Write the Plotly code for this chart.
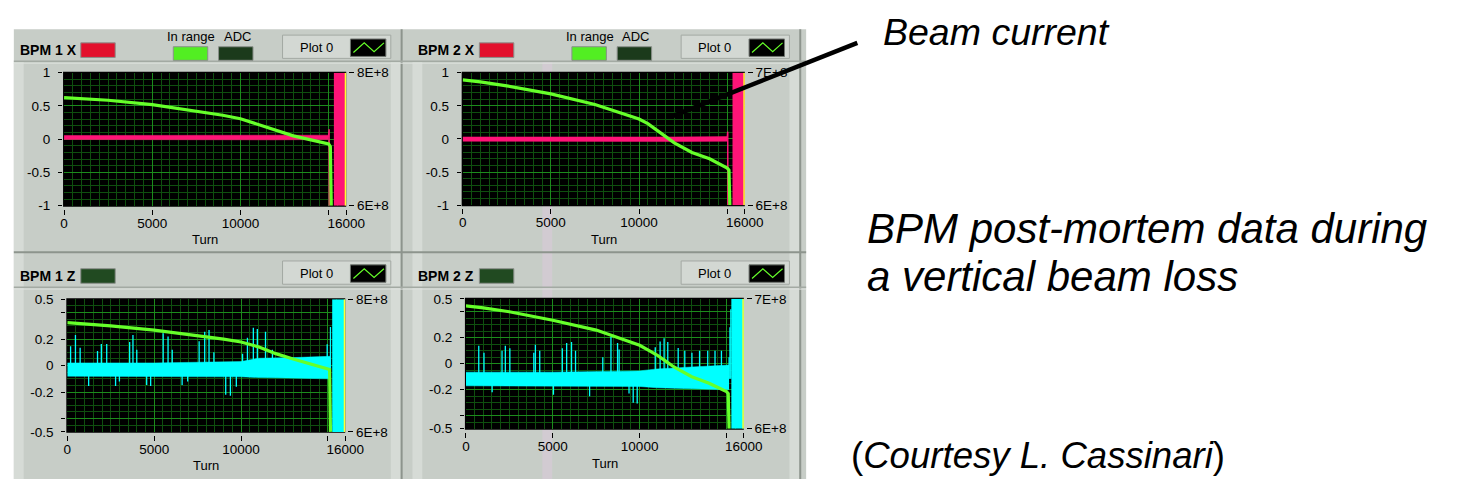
import plotly.graph_objects as go

W, H = 1459, 490
FONT = "Liberation Sans, Arial, sans-serif"

# ---------------- data ----------------
TURN_MAX = 16000
turn_ticks = [0, 5000, 10000, 15000, 16000]
turn_tick_text = ["0", "5000", "10000", "", "16000"]

x_pos_ticks = [-1, -0.5, 0, 0.5, 1]
x_pos_tick_text = ["-1", "-0.5", "0", "0.5", "1"]
z_pos_ticks = [-0.5, -0.4, -0.2, 0, 0.2, 0.4, 0.5]
z_pos_tick_text = ["-0.5", "", "-0.2", "0", "0.2", "", "0.5"]

# beam current (right axis)
beam_turns = [0, 1000, 2500, 5000, 7500, 9000, 10000, 10500, 11000, 11500,
              12000, 13000, 14000, 15000, 15100, 15150]
bpm1_x_current = [7.624e8, 7.61e8, 7.585e8, 7.52e8, 7.42e8, 7.36e8, 7.307e8, 7.265e8,
                  7.22e8, 7.175e8, 7.13e8, 7.05e8, 6.99e8, 6.93e8, 6.89e8, 6.0e8]
bpm2_x_current = [6.945e8, 6.93e8, 6.90e8, 6.84e8, 6.76e8, 6.695e8, 6.65e8, 6.615e8,
                  6.5675e8, 6.52e8, 6.47e8, 6.3975e8, 6.35e8, 6.28e8, 6.265e8, 6.0e8]
bpm1_z_current = [7.648e8, 7.63e8, 7.60e8, 7.536e8, 7.454e8, 7.40e8, 7.356e8, 7.32e8,
                  7.282e8, 7.23e8, 7.18e8, 7.098e8, 7.024e8, 6.952e8, 6.94e8, 6.0e8]
bpm2_z_current = [6.945e8, 6.93e8, 6.90e8, 6.835e8, 6.759e8, 6.69e8, 6.642e8, 6.605e8,
                  6.567e8, 6.52e8, 6.473e8, 6.40e8, 6.35e8, 6.286e8, 6.27e8, 6.0e8]

# horizontal position (X): noise band envelope
x_band_turns = [0, 4000, 8000, 12000, 15000]
bpm1_x_low = [-0.005, -0.01, -0.005, -0.01, -0.005]
bpm1_x_high = [0.055, 0.06, 0.055, 0.06, 0.06]
bpm2_x_low = [-0.035, -0.04, -0.035, -0.04, -0.035]
bpm2_x_high = [0.03, 0.035, 0.03, 0.03, 0.035]

# last turns before the loss
x_tail_turns = [15000, 15030, 15040]
bpm1_x_tail = [0.03, 0.15, -1.0]
bpm2_x_tail = [0.0, 0.11, -1.0]

# vertical position (Z): noise band envelope
z_band_turns = [0, 5000, 10000, 11000, 13000, 15000, 15150]
bpm1_z_low = [-0.08, -0.08, -0.085, -0.09, -0.095, -0.10, -0.10]
bpm1_z_high = [0.02, 0.02, 0.03, 0.055, 0.06, 0.065, 0.07]
bpm2_z_low = [-0.17, -0.17, -0.175, -0.185, -0.195, -0.20, -0.20]
bpm2_z_high = [-0.065, -0.065, -0.055, -0.04, -0.025, -0.015, -0.01]

# Z spikes: turn and peak value
bpm1_z_base = -0.03
bpm1_z_spike_turns = [190, 470, 740, 1740, 1960, 2270, 3590, 3780, 4000, 5520, 5800, 6040,
                      7590, 7910, 8160, 8440, 10090, 10370, 10710, 10940, 11410, 11810,
                      14960, 15150,
                      1230, 2780, 3000, 4570, 4800, 6610, 6930, 9120, 9390, 9730]
bpm1_z_spike_tips = [0.146, 0.23, 0.134, 0.11, 0.163, 0.163, 0.178, 0.23, 0.12, 0.244, 0.22, 0.12,
                     0.183, 0.256, 0.268, 0.10, 0.09, 0.21, 0.285, 0.276, 0.256, 0.12,
                     0.16, 0.29,
                     -0.154, -0.154, -0.12, -0.146, -0.154, -0.146, -0.12, -0.22, -0.227, -0.16]
bpm2_z_base = -0.115
bpm2_z_spike_turns = [740, 1040, 2080, 2270, 2530, 3910, 4000, 4250, 5550, 5800, 6080, 6310,
                      7880, 8350, 8730, 8820, 10900, 11180, 11410, 11620, 12220, 12600,
                      13010, 13450, 13920, 14340, 14710, 15150, 15200, 15250,
                      1510, 5040, 7120, 9390, 9630, 9860]
bpm2_z_spike_tips = [0.139, 0.085, 0.10, 0.139, 0.12, 0.085, 0.147, 0.10, 0.12, 0.159, 0.167, 0.10,
                     0.05, 0.209, 0.159, 0.11, 0.127, 0.172, 0.197, 0.167, 0.122, 0.10,
                     0.085, 0.10, 0.10, 0.10, 0.10, 0.05, 0.28, 0.42,
                     -0.22, -0.239, -0.25, -0.23, -0.30, -0.306]

# turn where the position signal saturates after the loss
bpm1_x_sat = 15300
bpm2_x_sat = 15300
bpm1_z_sat = 15250
bpm2_z_sat = 15280

# ---------------- styling ----------------
PANEL = "#c7cdc7"
PANEL_LIGHT = "#d6dbd6"
PANEL_DARK = "#8d948d"
GRID_MAJOR = "#1c8c1c"
GRID_MINOR = "#0f4f0f"
GREEN = "#66ff2a"
PINK = "#ff1477"
CYAN = "#00ffff"
YELLOW = "#ffff33"


def px_x(p):
    return p / W


def px_y(p):
    return 1 - p / H


panels = [
    dict(label="BPM 1 X", kind="X", dx=0, dy=0, geo=(61, 347.7, 67.7, 205.0),
         yrange=(-1, 1), cur=(6e8, 8e8), cur_text=("6E+8", "8E+8"),
         low=bpm1_x_low, high=bpm1_x_high, tail=bpm1_x_tail, sat=bpm1_x_sat,
         current=bpm1_x_current, color=PINK, turn_y=240),
    dict(label="BPM 2 X", kind="X", dx=405, dy=0, geo=(466, 752.7, 67.7, 204.5),
         yrange=(-1, 1), cur=(6e8, 7e8), cur_text=("6E+8", "7E+8"),
         low=bpm2_x_low, high=bpm2_x_high, tail=bpm2_x_tail, sat=bpm2_x_sat,
         current=bpm2_x_current, color=PINK, turn_y=240),
    dict(label="BPM 1 Z", kind="Z", dx=0, dy=233, geo=(64.3, 346.7, 301.5, 438.3),
         yrange=(-0.5, 0.5), cur=(6e8, 8e8), cur_text=("6E+8", "8E+8"),
         low=bpm1_z_low, high=bpm1_z_high, base=bpm1_z_base,
         spikes=(bpm1_z_spike_turns, bpm1_z_spike_tips), sat=bpm1_z_sat,
         current=bpm1_z_current, color=CYAN, turn_y=473),
    dict(label="BPM 2 Z", kind="Z", dx=405, dy=233, geo=(469.3, 751.7, 301.0, 435.0),
         yrange=(-0.5, 0.5), cur=(6e8, 7e8), cur_text=("6E+8", "7E+8"),
         low=bpm2_z_low, high=bpm2_z_high, base=bpm2_z_base,
         spikes=(bpm2_z_spike_turns, bpm2_z_spike_tips), sat=bpm2_z_sat,
         current=bpm2_z_current, color=CYAN, turn_y=471),
]

shapes = []
annotations = []


def rect(x0, y0, x1, y1, fill, line=None, lw=0, layer="below"):
    shapes.append(dict(type="rect", xref="paper", yref="paper",
                       x0=px_x(x0), x1=px_x(x1), y0=px_y(y1), y1=px_y(y0),
                       fillcolor=fill, line=dict(color=line or fill, width=lw), layer=layer))


def seg(x0, y0, x1, y1, color, width=1, layer="below"):
    shapes.append(dict(type="line", xref="paper", yref="paper",
                       x0=px_x(x0), x1=px_x(x1), y0=px_y(y0), y1=px_y(y1),
                       line=dict(color=color, width=width), layer=layer))


def label(x, y, s, size=13, anchor="left", color="black"):
    annotations.append(dict(xref="paper", yref="paper", x=px_x(x), y=px_y(y), text=s,
                            showarrow=False, xanchor=anchor, yanchor="middle",
                            font=dict(family=FONT, size=size, color=color)))


# front panel background
rect(10, 23, 815, 487, PANEL)
rect(547, 57, 557, 487, "#d2cbd2")
for dx in (0, 405):
    rect(10 + dx, 57, 20 + dx, 487, PANEL_LIGHT)
    rect(393 + dx, 57, 403 + dx, 487, PANEL_LIGHT)
    seg(404 + dx, 23, 404 + dx, 487, PANEL_DARK, 2)
for dy in (0, 233):
    seg(10, 56 + dy, 815, 56 + dy, "#a3aaa3", 1.5)
    seg(10, 58 + dy, 815, 58 + dy, "#dde1dd", 1)
seg(10, 253, 815, 253, PANEL_DARK, 2)

fig = go.Figure()
layout_axes = {}

for i, p in enumerate(panels):
    n = i + 1
    x0, x1, yt, yb = p["geo"]
    lo, hi = p["yrange"]
    dx, dy = p["dx"], p["dy"]
    xname = "xaxis" if n == 1 else f"xaxis{n}"
    xref = "x" if n == 1 else f"x{n}"
    yl_n, yr_n = 2 * n - 1, 2 * n
    ylname = "yaxis" if yl_n == 1 else f"yaxis{yl_n}"
    ylref = "y" if yl_n == 1 else f"y{yl_n}"
    yrname, yrref = f"yaxis{yr_n}", f"y{yr_n}"

    # black plot area
    rect(x0 - 1, yt - 1, x1, yb + 1, "black")

    # header widgets
    label(14 + dx, 44 + dy, "<b>" + p["label"] + "</b>", size=14)
    ind_color = "#e3102c" if p["kind"] == "X" else "#214a21"
    rect(78 + dx, 37 + dy, 113 + dx, 52 + dy, ind_color, "#8a8f8a", 1)
    if p["kind"] == "X":
        label(190 + dx, 30 + dy, "In range", anchor="center")
        label(237 + dx, 30 + dy, "ADC", anchor="center")
        rect(172 + dx, 41 + dy, 207 + dx, 55 + dy, "#52ee22", "#8a8f8a", 1)
        rect(218 + dx, 41 + dy, 253 + dx, 55 + dy, "#1b3a1b", "#8a8f8a", 1)
    rect(283 + dx, 29 + dy, 393 + dx, 53 + dy, "#d3d8d3", "#a3a9a3", 1)
    label(317 + dx, 42 + dy, "Plot 0", anchor="center")
    rect(352 + dx, 33 + dy, 388 + dx, 51 + dy, "black", "#6f746f", 1)
    zig = [(355, 47), (366, 37), (376, 46), (386, 37)]
    path = "M " + " L ".join(f"{px_x(a + dx)},{px_y(b + dy)}" for a, b in zig)
    shapes.append(dict(type="path", xref="paper", yref="paper", path=path,
                       line=dict(color=GREEN, width=1.2), layer="below"))
    label((x0 + x1) / 2, p["turn_y"], "Turn", anchor="center")

    tickfont = dict(family=FONT, size=13.5, color="black")
    layout_axes[xname] = dict(
        domain=[px_x(x0), px_x(x1)], range=[0, TURN_MAX], anchor="free",
        position=px_y(yb + 3), tickmode="array", tickvals=turn_ticks, ticktext=turn_tick_text,
        ticks="outside", ticklen=5, tickwidth=1, tickcolor="black", tickfont=tickfont,
        ticklabelstandoff=-3,
        showline=False, zeroline=False, showgrid=True, gridcolor=GRID_MAJOR, gridwidth=1,
        minor=dict(tickmode="linear", tick0=0, dtick=500, showgrid=True,
                   gridcolor=GRID_MINOR, gridwidth=1, ticks=""),
        fixedrange=True)
    yt_vals = x_pos_ticks if p["kind"] == "X" else z_pos_ticks
    yt_text = x_pos_tick_text if p["kind"] == "X" else z_pos_tick_text
    layout_axes[ylname] = dict(
        domain=[px_y(yb), px_y(yt)], range=[lo, hi], anchor="free", position=px_x(x0 - 2),
        side="left", tickmode="array", tickvals=yt_vals, ticktext=yt_text,
        ticks="outside", ticklen=4, tickwidth=1, tickcolor="black", tickfont=tickfont,
        ticklabelstandoff=5,
        showline=False, zeroline=False, showgrid=True, gridcolor=GRID_MAJOR, gridwidth=1,
        minor=dict(tickmode="linear", tick0=0, dtick=0.1 if p["kind"] == "X" else 0.05,
                   showgrid=True, gridcolor=GRID_MINOR, gridwidth=1, ticks=""),
        fixedrange=True)
    layout_axes[yrname] = dict(
        overlaying=ylref, side="right", anchor="free", position=px_x(x1 + 2),
        range=list(p["cur"]), tickmode="array", tickvals=list(p["cur"]),
        ticktext=list(p["cur_text"]), ticks="outside", ticklen=5, tickwidth=1,
        tickcolor="black", tickfont=tickfont, showgrid=False, zeroline=False,
        showline=False, fixedrange=True)

    common = dict(xaxis=xref, yaxis=ylref, showlegend=False, hoverinfo="skip")
    band_turns = x_band_turns if p["kind"] == "X" else z_band_turns
    fig.add_trace(go.Scatter(x=band_turns, y=p["low"], mode="lines",
                             line=dict(color=p["color"], width=0.5), **common))
    fig.add_trace(go.Scatter(x=band_turns, y=p["high"], mode="lines", fill="tonexty",
                             fillcolor=p["color"], line=dict(color=p["color"], width=0.5),
                             **common))
    if p["kind"] == "X":
        fig.add_trace(go.Scatter(x=x_tail_turns, y=p["tail"], mode="lines",
                                 line=dict(color=p["color"], width=1.5), **common))
    else:
        sx, sy = [], []
        for t, v in zip(*p["spikes"]):
            sx += [t, t, None]
            sy += [p["base"], v, None]
        fig.add_trace(go.Scatter(x=sx, y=sy, mode="lines",
                                 line=dict(color=p["color"], width=1.3), **common))
    s = p["sat"]
    fig.add_trace(go.Scatter(x=[s, TURN_MAX, TURN_MAX, s, s], y=[lo, lo, hi, hi, lo],
                             mode="lines", fill="toself", fillcolor=p["color"],
                             line=dict(color=p["color"], width=0), **common))
    fig.add_trace(go.Scatter(x=[TURN_MAX, TURN_MAX], y=[lo, hi], mode="lines",
                             line=dict(color=YELLOW, width=3), **common))
    fig.add_trace(go.Scatter(x=beam_turns, y=p["current"], mode="lines",
                             line=dict(color=GREEN, width=3.2), xaxis=xref, yaxis=yrref,
                             showlegend=False, hoverinfo="skip"))

# pointer from the caption to the beam current trace
seg(867, 37, 678, 113, "black", 4.5, layer="above")

label(891, 26, "<i>Beam current</i>", size=37.5)
label(875, 228, "<i>BPM post-mortem data during</i>", size=42)
label(875, 278, "<i>a vertical beam loss</i>", size=42)
label(859, 463, "(<i>Courtesy L. Cassinari</i>)", size=36.6)

fig.update_layout(width=W, height=H, margin=dict(l=0, r=0, t=0, b=0),
                  paper_bgcolor="white", plot_bgcolor="rgba(0,0,0,0)",
                  shapes=shapes, annotations=annotations, showlegend=False,
                  **layout_axes)
fig.write_html("out.html")
